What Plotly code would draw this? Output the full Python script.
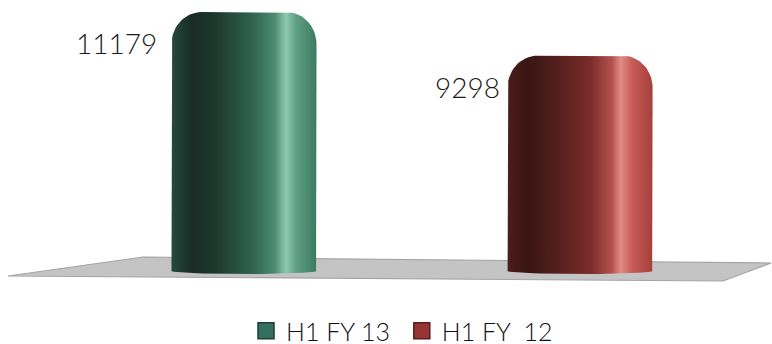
import numpy as np
import plotly.graph_objects as go

# Half-year totals
categories = ["H1 FY 13", "H1 FY 12"]
values = [11179, 9298]
positions = [0, 1]

# Cylinder shading, left to right across each bar
green_scale = [
    [0.00, "#27493d"], [0.14, "#182c24"], [0.30, "#1d382e"],
    [0.55, "#2e614e"], [0.71, "#4b8b71"], [0.79, "#90c8ae"],
    [0.86, "#5f9e83"], [1.00, "#3b7b61"],
]
red_scale = [
    [0.00, "#4c1d1b"], [0.14, "#381513"], [0.34, "#531f1d"],
    [0.58, "#7c2e2b"], [0.72, "#b4524e"], [0.78, "#e38c84"],
    [0.86, "#c65c57"], [1.00, "#a63f3b"],
]
scales = [green_scale, red_scale]
legend_colors = ["#347060", "#953633"]
legend_edges = ["#1d3e33", "#5a1d1b"]
legend_labels = ["H1 FY 13\u00a0", "H1\u00a0FY\u00a0\u00a012"]
label_shift = [-13, -6]

# axis geometry
X_RANGE = [-0.726, 1.571]
Y_RANGE = [-3150, 11700]
W, H = 772, 344
px_x = (X_RANGE[1] - X_RANGE[0]) / W
px_y = (Y_RANGE[1] - Y_RANGE[0]) / H

half_w = 72.5 * px_x
corner_rx = 30 * px_x
corner_ry = 32 * px_y
sag = 3 * px_y


def cylinder_outline(cx, v):
    xs, ys = [], []
    # left side going up
    xs += [cx - half_w]
    ys += [0]
    # top-left corner
    t = np.linspace(np.pi, np.pi / 2, 16)
    xs += list(cx - half_w + corner_rx + corner_rx * np.cos(t))
    ys += list(v - corner_ry + corner_ry * np.sin(t))
    # top-right corner
    t = np.linspace(np.pi / 2, 0, 16)
    xs += list(cx + half_w - corner_rx + corner_rx * np.cos(t))
    ys += list(v - corner_ry + corner_ry * np.sin(t))
    # right side down to the base
    xs += [cx + half_w]
    ys += [0]
    # bottom elliptical rim
    t = np.linspace(0, -np.pi, 30)
    xs += list(cx + half_w * np.cos(t))
    ys += list(sag * np.sin(t))
    return xs, ys


fig = go.Figure()

for v, cx, cs, dx in zip(values, positions, scales, label_shift):
    xs, ys = cylinder_outline(cx, v)
    fig.add_trace(go.Scatter(
        x=xs, y=ys, mode="lines", fill="toself",
        line=dict(width=0),
        fillgradient=dict(type="horizontal", colorscale=cs,
                          start=cx - half_w, stop=cx + half_w),
        showlegend=False, hoverinfo="skip",
    ))
    fig.add_annotation(
        x=cx - half_w, y=v, xref="x", yref="y",
        text=f"{v}", showarrow=False,
        xanchor="right", yanchor="middle",
        xshift=dx, yshift=-31,
        font=dict(family="Lato", size=28, color="#1a1a1a", weight=300),
    )

# legend entries
for lab, col, edge in zip(legend_labels, legend_colors, legend_edges):
    fig.add_trace(go.Scatter(
        x=[None], y=[None], mode="markers", name=lab,
        marker=dict(symbol="square", size=17, color=col,
                    line=dict(width=1.5, color=edge)),
    ))

# floor plane
floor = [(8, 276), (143, 257), (771, 263), (723, 281)]
path = "M " + " L ".join(f"{x / W:.4f},{1 - y / H:.4f}" for x, y in floor) + " Z"
fig.add_shape(type="path", path=path, xref="paper", yref="paper",
              fillcolor="#c4c4c4", line=dict(color="#a4a4a4", width=1.2),
              layer="below")

fig.update_layout(
    width=W, height=H,
    margin=dict(l=0, r=0, t=0, b=0, autoexpand=False),
    paper_bgcolor="white", plot_bgcolor="white",
    xaxis=dict(range=X_RANGE, visible=False, fixedrange=True),
    yaxis=dict(range=Y_RANGE, visible=False, fixedrange=True),
    showlegend=True,
    legend=dict(orientation="h", x=246 / W, xanchor="left",
                y=(H - 331) / H, yanchor="middle",
                font=dict(family="Lato", size=25, color="#111111", weight=300),
                bgcolor="rgba(0,0,0,0)", itemwidth=30),
)

fig.write_html("out.html")
